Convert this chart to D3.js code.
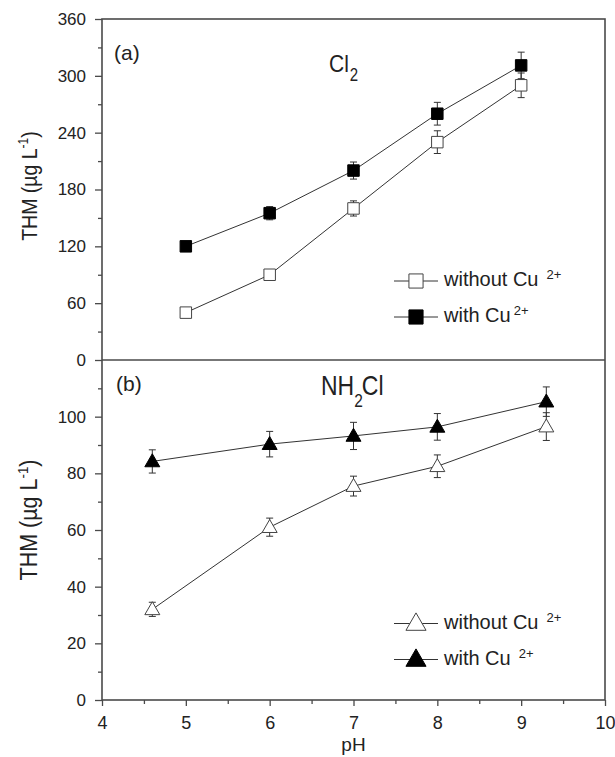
<!DOCTYPE html>
<html><head><meta charset="utf-8">
<script src="https://cdn.jsdelivr.net/npm/d3@7"></script>
<style>body{margin:0;background:#fff}svg{display:block}text{font-family:"Liberation Sans",Arial,sans-serif;fill:#222}</style>
</head><body><svg id="c" width="615" height="757"></svg>
<script>
// pH values
const phA = [5, 6, 7, 8, 9];
const phB = [4.6, 6, 7, 8, 9.3];
// Panel (a) Cl2
const aWithout = [50, 90, 160, 230, 290];
const aWithoutErr = [5, 4, 8, 12, 13];
const aWith = [120, 155, 200, 260, 311];
const aWithErr = [3, 7, 9, 12, 14];
// Panel (b) NH2Cl
const bWithout = [32, 61, 75.5, 82.5, 96.5];
const bWithoutErr = [2.5, 3.2, 3.5, 4, 4.9];
const bWith = [84.2, 90.3, 93.2, 96.4, 105.3];
const bWithErr = [4.1, 4.5, 4.8, 4.7, 5.2];
const xTicks = [4, 5, 6, 7, 8, 9, 10];
const aTicks = [0, 60, 120, 180, 240, 300, 360];
const bTicks = [0, 20, 40, 60, 80, 100];

const svg = d3.select("#c");
const L = 102, R = 605, T = 19, M = 360, B = 700;
const axisCol = "#4a4a4a";
const x = d3.scaleLinear().domain([4, 10]).range([L, R]);
const yA = d3.scaleLinear().domain([0, 360]).range([M, T]);
const yB = d3.scaleLinear().domain([0, 120]).range([B, M]);

function styleAxis(fs) {
  return g => {
    g.selectAll("path").remove();
    g.selectAll("line").attr("stroke", axisCol).attr("stroke-width", 1.3);
    g.selectAll("text").style("font-size", fs + "px").attr("fill", "#222");
  };
}
// y axes
svg.append("g").attr("transform", `translate(${L},0)`)
  .call(d3.axisLeft(yA).tickValues(d3.range(30, 360, 60)).tickSize(4).tickFormat(""))
  .call(styleAxis(17));
svg.append("g").attr("transform", `translate(${L},0)`)
  .call(d3.axisLeft(yA).tickValues(aTicks).tickSize(7).tickPadding(9).tickFormat(d3.format("d")))
  .call(styleAxis(17));
svg.append("g").attr("transform", `translate(${L},0)`)
  .call(d3.axisLeft(yB).tickValues(d3.range(10, 120, 20)).tickSize(4).tickFormat(""))
  .call(styleAxis(17));
svg.append("g").attr("transform", `translate(${L},0)`)
  .call(d3.axisLeft(yB).tickValues(bTicks).tickSize(7).tickPadding(9).tickFormat(d3.format("d")))
  .call(styleAxis(17));
// x axis
svg.append("g").attr("transform", `translate(0,${B})`)
  .call(d3.axisBottom(x).tickValues(d3.range(4.5, 10, 1)).tickSize(4).tickFormat(""))
  .call(styleAxis(18));
svg.append("g").attr("transform", `translate(0,${B})`)
  .call(d3.axisBottom(x).tickValues(xTicks).tickSize(6).tickPadding(10).tickFormat(d3.format("d")))
  .call(styleAxis(18));

// frames
svg.append("rect").attr("x", L).attr("y", T).attr("width", R - L).attr("height", B - T)
  .attr("fill", "none").attr("stroke", axisCol).attr("stroke-width", 1.6);
svg.append("line").attr("x1", L).attr("x2", R).attr("y1", M).attr("y2", M)
  .attr("stroke", axisCol).attr("stroke-width", 1.6);

const sq = d3.symbol().type(d3.symbolSquare).size(132)();
const tri = d3.symbol().type(d3.symbolTriangle).size(97)();

function series(xs, ys, errs, y, sym, isTri, filled) {
  const g = svg.append("g");
  const line = d3.line().x((d, i) => x(xs[i])).y(d => y(d));
  g.append("path").datum(ys).attr("d", line).attr("fill", "none").attr("stroke", "#333").attr("stroke-width", 1);
  ys.forEach((v, i) => {
    const cx = x(xs[i]);
    const y1 = y(v + errs[i]), y2 = y(v - errs[i]);
    g.append("line").attr("x1", cx).attr("x2", cx).attr("y1", y1).attr("y2", y2).attr("stroke", "#333").attr("stroke-width", 1);
    [y1, y2].forEach(yy => g.append("line").attr("x1", cx - 3.5).attr("x2", cx + 3.5).attr("y1", yy).attr("y2", yy).attr("stroke", "#333").attr("stroke-width", 1));
  });
  ys.forEach((v, i) => {
    const dy = isTri ? 1 : 0;
    g.append("path").attr("d", sym).attr("transform", `translate(${x(xs[i])},${y(v) + dy})`)
      .attr("fill", filled ? "#000" : "#fff").attr("stroke", filled ? "#000" : "#444").attr("stroke-width", 1);
  });
}
series(phA, aWithout, aWithoutErr, yA, sq, false, false);
series(phA, aWith, aWithErr, yA, sq, false, true);
series(phB, bWithout, bWithoutErr, yB, tri, true, false);
series(phB, bWith, bWithErr, yB, tri, true, true);

// legends
function legend(y0, isTri, labels) {
  labels.forEach((lab, i) => {
    const yy = y0 + i * 36;
    svg.append("line").attr("x1", 394).attr("x2", 438).attr("y1", yy).attr("y2", yy).attr("stroke", "#333").attr("stroke-width", 1);
    const s = isTri ? d3.symbol().type(d3.symbolTriangle).size(175)() : d3.symbol().type(d3.symbolSquare).size(200)();
    svg.append("path").attr("d", s)
      .attr("transform", `translate(416,${yy + (isTri ? 1 : 0)})`)
      .attr("fill", i === 1 ? "#000" : "#fff").attr("stroke", i === 1 ? "#000" : "#444").attr("stroke-width", 1);
    const t = svg.append("text").attr("x", 444).attr("y", yy + 5).style("font-size", "20px");
    t.append("tspan").text(lab[0]);
    t.append("tspan").attr("dx", lab[1]).attr("dy", -7).style("font-size", "13px").text("2+");
  });
}
legend(281, false, [["without Cu", 8], ["with Cu", 3]]);
legend(623.5, true, [["without Cu", 8], ["with Cu", 8]]);

// panel labels
svg.append("text").attr("x", 114).attr("y", 60).style("font-size", "21px").text("(a)");
svg.append("text").attr("x", 116).attr("y", 391).style("font-size", "21px").text("(b)");
const ca = svg.append("text").attr("transform", "translate(329,71.5) scale(1,1.17)").style("font-size", "21px");
ca.append("tspan").text("Cl");
ca.append("tspan").attr("dx", 1).attr("dy", 8.5).style("font-size", "15px").text("2");
const cb = svg.append("text").attr("transform", "translate(321,395) scale(1,1.18)").style("font-size", "23px");
cb.append("tspan").text("NH");
cb.append("tspan").attr("dy", 10).style("font-size", "15.5px").text("2");
cb.append("tspan").attr("dx", -1).attr("dy", -10).text("Cl");

// y labels
function ylab(cy, fs) {
  const t = svg.append("text").attr("transform", `translate(37,${cy}) rotate(-90) scale(1,1.15)`).attr("text-anchor", "middle").style("font-size", fs + "px");
  t.append("tspan").text("THM (µg L");
  t.append("tspan").attr("dy", -8).style("font-size", (fs * 0.62) + "px").text("-1");
  t.append("tspan").attr("dy", 8).text(")");
}
ylab(186, 19.5);
ylab(520, 21.5);
svg.append("text").attr("x", (L + R) / 2).attr("y", 751).attr("text-anchor", "middle").style("font-size", "19px").text("pH");
</script></body></html>
